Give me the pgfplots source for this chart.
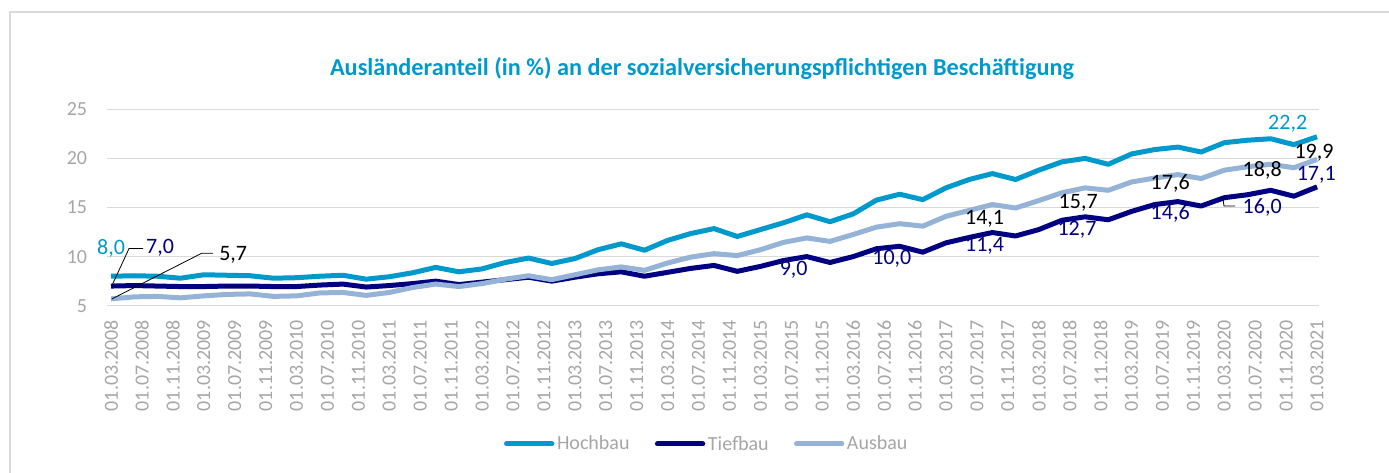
\documentclass[border=0pt]{standalone}
\usepackage{pgfplots}
\pgfplotsset{compat=1.18}
\usepackage{fontspec}
\setmainfont{Carlito}
\definecolor{hoch}{HTML}{0099CC}
\definecolor{tief}{HTML}{000080}
\definecolor{aus}{HTML}{95B3D7}
\definecolor{tickgray}{HTML}{A6A6A6}
\definecolor{gridgray}{HTML}{D9D9D9}
\begin{document}
\begin{tikzpicture}
\useasboundingbox (0pt,0pt) rectangle (1041.75pt,-354.75pt);
\draw[gridgray, line width=0.9pt] (7.5pt,-360pt) -- (7.5pt,-9pt) -- (1050pt,-9pt);
\node[anchor=base, text=hoch, font=\fontsize{18.2}{22}\selectfont\bfseries] at (526.5pt,-57pt)
  {Ausländeranteil (in \%) an der sozialversicherungspflichtigen Beschäftigung};
\begin{axis}[
  at={(80.475pt,-229.275pt)}, anchor=south west,
  scale only axis, width=908.775pt, height=147.3pt,
  xmin=-0.48, xmax=156.25, ymin=5, ymax=25,
  axis line style={draw=none},
  major tick length=0pt,
  ytick={5,10,15,20,25},
  ymajorgrids, grid style={gridgray, line width=0.9pt},
  xtick={0,4,...,156},
  xticklabels={01.03.2008,01.07.2008,01.11.2008,
01.03.2009,01.07.2009,01.11.2009,
01.03.2010,01.07.2010,01.11.2010,
01.03.2011,01.07.2011,01.11.2011,
01.03.2012,01.07.2012,01.11.2012,
01.03.2013,01.07.2013,01.11.2013,
01.03.2014,01.07.2014,01.11.2014,
01.03.2015,01.07.2015,01.11.2015,
01.03.2016,01.07.2016,01.11.2016,
01.03.2017,01.07.2017,01.11.2017,
01.03.2018,01.07.2018,01.11.2018,
01.03.2019,01.07.2019,01.11.2019,
01.03.2020,01.07.2020,01.11.2020,
01.03.2021},
  xticklabel style={rotate=90, anchor=east, inner sep=0pt, text=tickgray, font=\fontsize{15}{18}\selectfont},
  xticklabel shift=10.5pt,
  yticklabel style={anchor=east, inner sep=0pt, text=tickgray, font=\fontsize{15}{18}\selectfont},
  yticklabel shift=15pt,
  /pgf/number format/assume math mode=true,
  clip=false,
  legend columns=3,
  legend style={at={(0.495,-0.704)}, anchor=center, draw=none, fill=none,
    font=\fontsize{15}{18}\selectfont, text=tickgray,
    /tikz/every even column/.append style={column sep=17pt}},
  legend image code/.code={\draw[#1, line cap=round] (0pt,0pt) -- (34pt,0pt);},
  every axis plot/.append style={line width=3.75pt, line join=round, no markers},
]
\addplot[hoch] coordinates {(0,8.0)(3,8.05)(6,8.0)(9,7.8)(12,8.15)(15,8.1)(18,8.05)(21,7.8)(24,7.85)(27,8.0)(30,8.1)(33,7.7)(36,7.95)(39,8.35)(42,8.9)(45,8.45)(48,8.75)(51,9.4)(54,9.85)(57,9.3)(60,9.8)(63,10.7)(66,11.3)(69,10.65)(72,11.65)(75,12.35)(78,12.85)(81,12.05)(84,12.75)(87,13.45)(90,14.25)(93,13.55)(96,14.35)(99,15.75)(102,16.35)(105,15.8)(108,17.0)(111,17.85)(114,18.45)(117,17.85)(120,18.8)(123,19.65)(126,20.0)(129,19.4)(132,20.45)(135,20.9)(138,21.15)(141,20.65)(144,21.6)(147,21.85)(150,22.0)(153,21.4)(156,22.2)};
\addlegendentry{Hochbau}
\addplot[tief] coordinates {(0,7.0)(3,7.05)(6,7.0)(9,6.95)(12,6.95)(15,7.0)(18,7.0)(21,6.95)(24,6.95)(27,7.1)(30,7.2)(33,6.9)(36,7.05)(39,7.25)(42,7.5)(45,7.15)(48,7.4)(51,7.65)(54,7.9)(57,7.5)(60,7.9)(63,8.25)(66,8.45)(69,8.0)(72,8.4)(75,8.8)(78,9.1)(81,8.5)(84,9.0)(87,9.6)(90,10.0)(93,9.4)(96,10.0)(99,10.8)(102,11.05)(105,10.45)(108,11.4)(111,11.95)(114,12.45)(117,12.1)(120,12.75)(123,13.7)(126,14.05)(129,13.75)(132,14.6)(135,15.3)(138,15.6)(141,15.15)(144,16.0)(147,16.3)(150,16.75)(153,16.15)(156,17.1)};
\addlegendentry{Tiefbau}
\addplot[aus] coordinates {(0,5.7)(3,5.9)(6,5.95)(9,5.8)(12,6.0)(15,6.15)(18,6.2)(21,5.95)(24,6.0)(27,6.3)(30,6.35)(33,6.05)(36,6.35)(39,6.85)(42,7.2)(45,6.95)(48,7.25)(51,7.7)(54,8.05)(57,7.65)(60,8.15)(63,8.65)(66,8.95)(69,8.6)(72,9.35)(75,9.95)(78,10.3)(81,10.1)(84,10.7)(87,11.45)(90,11.9)(93,11.55)(96,12.25)(99,13.0)(102,13.35)(105,13.1)(108,14.1)(111,14.7)(114,15.3)(117,14.95)(120,15.7)(123,16.5)(126,17.0)(129,16.75)(132,17.6)(135,18.0)(138,18.35)(141,17.95)(144,18.8)(147,19.15)(150,19.4)(153,19.05)(156,19.9)};
\addlegendentry{Ausbau}
% leader lines
\draw[black, line width=0.6pt] (axis cs:0.09,7.0) -- (axis cs:2.33,10.82) -- (axis cs:4.14,10.82);
\draw[black, line width=0.6pt] (axis cs:0.09,5.68) -- (axis cs:11.73,10.34) -- (axis cs:13.19,10.34);
\draw[black, line width=0.6pt] (axis cs:143.8,16.04) -- (axis cs:143.96,15.15) -- (axis cs:145.4,15.15);
% data labels
\begin{scope}[every node/.style={font=\fontsize{16.5}{19}\selectfont, inner sep=0pt}]
\node[text=hoch] at (axis cs:0,10.88) {8,0};
\node[text=tief] at (axis cs:6.34,10.88) {7,0};
\node[text=black] at (axis cs:15.8,10.21) {5,7};
\node[text=tief] at (axis cs:88.3,8.69) {9,0};
\node[text=tief] at (axis cs:101.0,9.76) {10,0};
\node[text=black] at (axis cs:113.0,13.83) {14,1};
\node[text=tief] at (axis cs:113.0,11.13) {11,4};
\node[text=black] at (axis cs:125.1,15.43) {15,7};
\node[text=tief] at (axis cs:124.95,12.71) {12,7};
\node[text=black] at (axis cs:137.0,17.46) {17,6};
\node[text=tief] at (axis cs:137.0,14.41) {14,6};
\node[text=black] at (axis cs:148.9,18.82) {18,8};
\node[text=tief] at (axis cs:148.9,15.0) {16,0};
\node[text=hoch] at (axis cs:152.2,23.5) {22,2};
\node[text=black] at (axis cs:155.6,20.6) {19,9};
\node[text=tief] at (axis cs:155.9,18.36) {17,1};
\end{scope}
\end{axis}
\end{tikzpicture}
\end{document}
